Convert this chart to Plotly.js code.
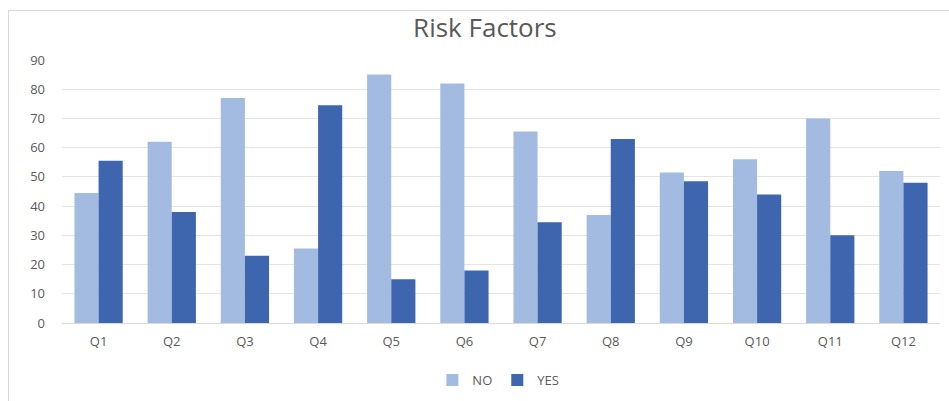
<!DOCTYPE html>
<html>
<head>
<meta charset="utf-8">
<script src="https://cdn.plot.ly/plotly-3.0.1.min.js"></script>
<style>
html,body{margin:0;padding:0;background:#fff;overflow:hidden;}
#frame{position:absolute;left:8px;top:10px;width:960px;height:420px;border:1px solid #d9d9d9;box-sizing:border-box;}
#chart{position:absolute;left:0;top:0;width:949px;height:401px;}
</style>
</head>
<body>
<div id="frame"></div>
<div id="chart"></div>
<script>
const categories = ["Q1","Q2","Q3","Q4","Q5","Q6","Q7","Q8","Q9","Q10","Q11","Q12"];
const noValues  = [44.5, 62, 77, 25.5, 85, 82, 65.5, 37, 51.5, 56, 70, 52];
const yesValues = [55.5, 38, 23, 74.5, 15, 18, 34.5, 63, 48.5, 44, 30, 48];
const yTicks = [0,10,20,30,40,50,60,70,80,90];

const font = "Open Sans, Liberation Sans, sans-serif";
const data = [
  {type:"bar", name:"NO", x:categories, y:noValues, marker:{color:"#a4bbe1"}, hoverinfo:"x+y"},
  {type:"bar", name:"YES", x:categories, y:yesValues, marker:{color:"#3d66ae"}, hoverinfo:"x+y"}
];
const layout = {
  width:949, height:401,
  paper_bgcolor:"rgba(0,0,0,0)", plot_bgcolor:"rgba(0,0,0,0)",
  margin:{l:62, r:9, t:60, b:78},
  barmode:"group", bargap:0.34, bargroupgap:0,
  title:{text:"Risk Factors", x:0.511, xanchor:"center", y:0.93, yanchor:"middle",
         font:{family:font, size:26, color:"#595959"}, automargin:false},
  xaxis:{tickfont:{family:font, size:13, color:"#595959"}, showline:true, linecolor:"#d9d9d9",
         ticks:"", showgrid:false, zeroline:false, fixedrange:true, ticklabelstandoff:6, automargin:false},
  yaxis:{range:[0,90], tickvals:yTicks, tickfont:{family:font, size:13, color:"#595959"},
         gridcolor:"#e4e4e4", zeroline:false, showline:false, ticks:"", ticklabelstandoff:16, fixedrange:true, automargin:false},
  legend:{orientation:"h", x:0.497, xanchor:"center", xref:"paper", yref:"container", y:0.052, yanchor:"middle",
          font:{family:font, size:13, color:"#595959"}, itemwidth:30, traceorder:"normal"},
  showlegend:true
};
Plotly.newPlot("chart", data, layout, {displayModeBar:false, staticPlot:true});
</script>
</body>
</html>
